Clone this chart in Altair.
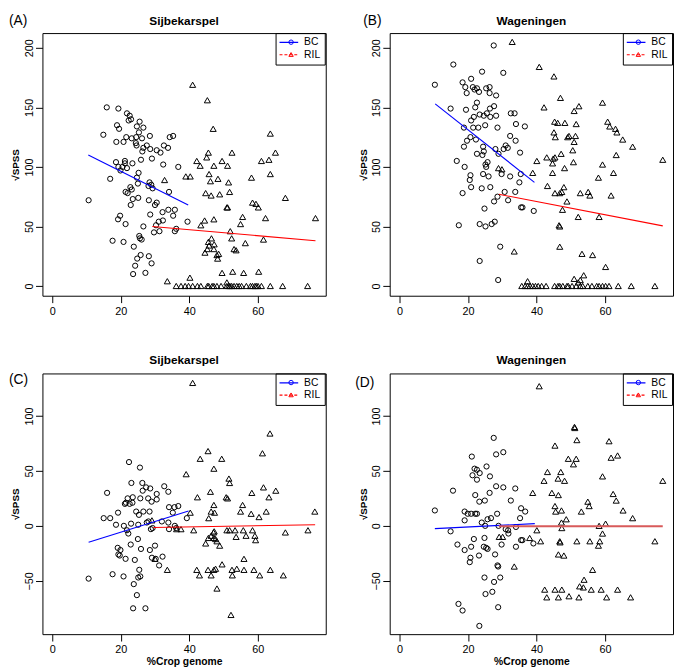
import altair as alt
import pandas as pd

FONT = "Liberation Sans, Arial, Helvetica, sans-serif"

# ---------------- data ----------------
X_DOMAIN = [-2.9, 79.9]
X_TICKS = [0, 20, 40, 60]
Y_DOMAIN_TOP = [-8.2, 212.4]
Y_TICKS_TOP = [0, 50, 100, 150, 200]
Y_DOMAIN_BOT = [-98.5, 138.6]
Y_TICKS_BOT = [-50, 0, 50, 100]

PANEL_TITLES = ["Sijbekarspel", "Wageningen", "Sijbekarspel", "Wageningen"]
PANEL_LETTERS = ["(A)", "(B)", "(C)", "(D)"]
GROUPS = ["BC", "RIL"]

A_BC = [(15.9,150),(19.3,149),(21.8,145),(22.6,143),(23.0,140),(22.3,139),(25.5,138),(24.7,134),(26.6,133),
        (18.9,135),(19.5,132),(25.3,129),(14.9,127),(21.6,125),(23.2,124),(24.5,125),(26.2,124),(28.5,126),
        (18.7,121),(20.8,121),(24.4,120),(24.6,118),(27.6,118),(26.6,116),(28.6,115),(30.5,114),(31.6,112),
        (32.6,118),(33.8,116),(34.3,125),(35.3,126),(26.3,113),(25.9,106),(29.1,107),(23.4,103),(21.2,105),
        (21.2,103),(18.6,104),(19.3,100),(20.5,100),(21.8,99),(19.9,97),(25.2,95),(32.4,102),(36.8,100),
        (16.9,90),(24.7,91),(25.0,86),(22.8,83),(23.2,81),(28.4,87),(28.9,85),(29.3,82),(28.1,84),(10.6,72),
        (21.4,79),(22.0,78),(34.1,79),(23.5,73),(25.1,74),(28.2,72),(30.5,70),(22.9,68),(30.0,68),(32.2,62),
        (33.9,64),(35.8,64),(35.3,59),(28.6,60),(19.8,59),(19.2,56),(21.4,52),(26.6,50),(31.1,54),(32.3,55),
        (30.3,51),(31.3,46),(29.7,45),(39.5,54),(35.8,46),(36.2,48),(17.6,38),(20.8,37),(25.4,42),(25.6,40),
        (26.1,39),(23.8,33),(25.8,26),(28.2,25),(24.8,23),(24.2,17),(29.0,19),(23.6,10),(27.2,11)]
A_RIL = [(41.0,169),(45.3,156),(47.0,132),(63.7,128),(65.2,112),(45.6,112),(42.2,105),(45.1,108),(49.6,105),
         (52.5,112),(43.2,101),(47.2,101),(51.2,101),(45.8,94),(48.4,90),(46.2,88),(51.5,87),(39.0,92),(40.3,92),
         (32.8,89),(44.8,78),(46.4,76),(48.9,77),(51.8,79),(51.0,66),(51.2,66),(58.2,91),(61.1,105),(63.3,106),
         (63.7,94),(68.1,74),(58.5,70),(59.5,69),(60.2,66),(55.6,58),(55.0,52),(62.3,57),(76.9,57),(47.2,56),
         (44.5,55),(43.4,51),(52.0,46),(52.4,40),(56.4,36),(61.7,39),(46.5,40),(45.6,37),(45.8,34),(45.3,31),
         (44.6,28),(47.3,35),(47.2,31),(53.1,31),(53.7,30),(48.1,26),(48.6,27),(48.3,23),(49.6,11),(52.7,12),
         (55.9,11),(60.3,12),(40.2,7),(33.6,4),(51.0,3),
         (36.2,0),(37.6,0),(38.8,0),(39.8,0),(41.0,0),(42.4,0),(43.4,0),(45.3,0),(45.7,0),(46.7,0),(47.2,0),
         (48.1,0),(49.3,0),(51.0,0),(51.5,0),(51.9,0),(52.4,0),(53.1,0),(53.9,0),(54.6,0),(55.3,0),(56.7,0),
         (57.9,0),(58.5,0),(59.2,0),(59.6,0),(60.1,0),(61.1,0),(63.7,0),(67.3,0),(74.6,0)]
A_FIT_BC = [(10.5,110),(39.7,68)]
A_FIT_RIL = [(29.2,50),(76.9,38)]

B_BC = [(27.5,202),(15.7,186),(10.3,169),(24.1,180),(30.3,179),(20.9,174),(18.4,171),(19.2,167),(21.4,167),
        (22.6,166),(23.2,163),(21.9,165),(25.3,166),(26.3,167),(19.6,162),(26.3,162),(28.2,160),(14.9,149),
        (19.4,148),(22.6,154),(22.1,150),(23.4,144),(21.7,142),(20.9,139),(24.6,143),(25.5,145),(26.4,149),
        (27.6,151),(28.2,143),(26.5,142),(32.5,145),(33.6,145),(34.0,136),(36.6,134),(18.8,133),(21.5,133),
        (23.0,133),(25.0,135),(28.6,133),(20.7,125),(19.7,122),(22.3,123),(18.8,117),(32.3,126),(33.9,122),
        (22.6,111),(24.2,110),(24.6,113),(24.4,117),(28.0,115),(28.9,111),(30.4,115),(31.0,118),(31.6,116),
        (35.2,112),(16.7,105),(19.0,100),(25.1,102),(25.7,104),(25.3,100),(24.4,94),(26.0,92),(29.8,94),
        (32.3,92),(35.4,94),(20.7,93),(20.5,89),(20.9,83),(24.0,82),(26.5,83),(18.4,78),(35.0,87),(33.8,79),
        (30.7,79),(28.6,75),(27.6,71),(31.7,72),(35.5,66),(35.9,66),(39.2,63),(24.8,65),(17.3,51),(23.4,52),
        (25.1,50),(26.9,52),(27.8,54),(29.4,33),(23.4,21),(28.8,5)]
B_RIL = [(32.9,205),(40.8,184),(45.1,176),(47.0,158),(42.2,150),(51.0,147),(52.4,151),(59.3,154),(45.3,138),
         (46.2,137),(48.3,137),(51.6,136),(60.8,138),(61.4,134),(63.1,132),(63.5,129),(65.2,123),(68.1,117),
         (76.9,106),(45.1,129),(45.5,125),(49.1,125),(49.5,126),(51.4,126),(51.0,121),(63.3,110),(59.3,102),
         (50.6,114),(50.8,104),(47.2,111),(45.4,108),(44.7,103),(44.9,107),(43.0,108),(40.1,105),(48.2,99),
         (44.7,95),(38.9,95),(62.5,95),(58.1,91),(43.2,84),(48.0,83),(47.4,79),(46.8,78),(45.4,78),(52.8,78),
         (55.1,79),(55.6,76),(61.8,76),(48.9,71),(47.6,64),(52.2,58),(58.3,58),(46.6,51),(46.8,50),(28.9,99),
         (29.9,98),(33.5,29),(46.8,33),(53.3,27),(56.4,26),(60.2,16),(53.8,9),(51.0,6),(52.8,5),(52.2,3),(37.4,4),
         (35.7,0),(36.7,0),(37.4,0),(38.1,0),(38.9,0),(39.7,0),(40.5,0),(41.5,0),(42.8,0),(45.3,0),(46.3,0),
         (46.8,0),(47.7,0),(48.9,0),(49.3,0),(50.4,0),(51.6,0),(52.8,0),(53.5,0),(55.0,0),(56.2,0),(57.6,0),
         (58.3,0),(59.3,0),(60.2,0),(61.2,0),(63.9,0),(67.7,0),(74.6,0)]
B_FIT_BC = [(10.4,153),(39.4,87)]
B_FIT_RIL = [(29.0,77),(76.9,50.5)]

C_BC = [(22.4,58),(25.6,53),(23.1,39),(26.3,39),(27.4,35),(28.6,34),(16.0,30),(26.4,32),(30.5,29),(32.7,36),
        (33.9,31),(22.0,25),(23.5,26),(25.7,25),(28.0,25),(29.0,22),(30.5,24),(21.2,20),(21.5,21),(22.6,20),
        (23.4,21),(34.1,17),(35.7,17),(36.8,18),(24.5,13),(25.3,10),(26.6,13),(28.4,13),(35.2,12),(19.2,12),
        (15.0,7),(16.9,7),(18.6,1),(20.9,0),(23.0,2),(25.1,1),(27.6,3),(28.1,4),(21.8,-4),(22.2,-7),(28.8,-3),
        (29.3,-2),(32.0,4),(33.9,3),(34.1,-3),(35.8,0),(39.3,7),(36.2,-2),(25.0,-12),(22.9,-17),(25.9,-21),
        (28.5,-22),(30.0,-18),(19.1,-20),(19.9,-22),(19.3,-26),(19.7,-27),(21.4,-30),(24.1,-31),(29.1,-29),
        (32.2,-28),(30.2,-30),(31.2,-36),(17.6,-44),(20.8,-46),(25.4,-40),(25.7,-46),(25.1,-47),(10.6,-48),
        (23.8,-53),(24.7,-63),(23.6,-75),(27.2,-75)]
C_RIL = [(41.0,130),(63.6,84),(45.5,68),(43.2,61),(49.5,61),(61.4,66),(47.2,52),(39.1,47),(51.6,43),(51.8,39),
         (61.7,35),(65.3,32),(46.2,31),(58.3,30),(63.3,26),(50.8,26),(51.2,25),(42.4,26),(47.2,19),(55.6,19),
         (55.0,13),(58.1,11),(62.5,13),(60.4,8),(76.7,13),(46.4,13),(47.4,12),(40.3,12),(45.7,7),(51.0,-4),
         (51.8,-4),(53.4,-4),(55.8,-4),(58.5,-4),(41.3,-4),(37.6,-3),(36.3,-3),(47.3,-5),(47.1,-6),(46.4,-9),
         (47.2,-11),(47.7,-12),(45.6,-11),(44.8,-16),(48.1,-14),(48.9,-18),(53.7,-10),(56.6,-9),(59.2,-9),
         (59.4,-13),(68.1,-6),(74.7,-4),(56.0,-30),(49.6,-35),(33.6,-40),(42.2,-40),(43.0,-45),(45.5,-40),
         (46.4,-45),(47.2,-40),(47.7,-39),(52.5,-40),(52.6,-45),(53.9,-39),(56.0,-40),(58.9,-40),(60.6,-45),
         (63.7,-40),(67.5,-45),(48.1,-57),(52.2,-81),(29.1,5),(30.0,-30)]
C_FIT_BC = [(10.6,-15),(39.8,13.5)]
C_FIT_RIL = [(29.5,-1.5),(76.8,1)]

D_BC = [(27.5,80),(28.2,65),(30.3,67),(21.1,63),(21.9,52),(22.6,51),(23.4,48),(21.3,46),(22.6,42),(25.4,54),
        (26.4,45),(15.6,32),(22.1,28),(28.2,36),(30.3,35),(33.8,34),(26.3,30),(24.9,23),(23.3,22),(32.5,23),
        (10.3,14),(19.0,13),(19.9,11),(20.9,11),(22.1,11),(22.6,11),(19.0,5),(25.7,6),(26.7,7),(24.0,3),
        (28.5,11),(35.5,16),(36.7,13),(35.2,7),(14.9,-5),(16.9,-17),(25.0,0),(28.9,0),(31.0,-3),(31.7,-4),
        (34.0,-1),(31.8,-7),(21.7,-12),(24.8,-11),(29.8,-17),(34.0,-19),(19.0,-22),(20.9,-19),(23.2,-27),
        (24.6,-19),(25.3,-20),(25.7,-21),(27.9,-26),(20.7,-29),(20.5,-33),(35.5,-13),(35.9,-13),(28.6,-36),
        (28.8,-37),(24.8,-47),(27.6,-51),(29.4,-47),(25.1,-62),(27.1,-60),(17.2,-71),(18.4,-77),(28.8,-74),
        (23.3,-91),(39.1,-16)]
D_RIL = [(40.8,127),(51.1,90),(51.2,89),(51.8,78),(61.2,77),(45.4,73),(61.8,62),(63.7,64),(49.3,61),(51.6,61),
         (50.8,56),(43.2,49),(42.2,41),(47.1,49),(46.3,43),(48.2,41),(59.3,45),(38.9,30),(44.5,30),(46.4,28),
         (62.4,29),(63.3,23),(45.4,18),(45.6,13),(47.3,14),(48.7,6),(47.3,3),(47.4,-2),(55.0,22),(55.4,18),
         (53.1,13),(65.3,14),(68.1,7),(59.3,-7),(58.3,0),(60.2,2),(40.1,-4),(38.0,-11),(41.2,-14),(29.1,-10),
         (30.1,-10),(46.8,-14),(46.9,-15),(46.4,-26),(48.0,-27),(51.8,-14),(55.6,-14),(58.5,-14),(58.1,-18),
         (74.6,-14),(33.5,-37),(56.4,-40),(53.9,-49),(52.6,-55),(53.7,-56),(42.4,-58),(45.4,-58),(47.4,-58),
         (56.0,-58),(58.9,-58),(63.7,-58),(43.0,-65),(46.4,-65),(49.5,-64),(52.4,-65),(60.5,-65),(67.5,-65),
         (76.9,41)]
D_FIT_BC = [(10.3,-2.5),(39.5,2)]
D_FIT_RIL = [(29.0,-0.3),(76.9,-0.3)]

# ---------------- layout / style ----------------
W = 288
H_TOP = 267
H_BOT = 265
BLUE = "#0000ff"
RED = "#ff0000"
LEG_W = 51


def pts(pairs):
    return pd.DataFrame({"x": [p[0] for p in pairs], "y": [p[1] for p in pairs]})


def panel(bc, ril, fit_bc, fit_ril, title, letter, letter_dx, letter_dy, title_y,
          ydom, yticks, xtitle, height, ril_color=RED, ril_width=1.1):
    xs = alt.Scale(domain=X_DOMAIN, nice=False, zero=False)
    ys = alt.Scale(domain=ydom, nice=False, zero=False)
    xax = alt.Axis(values=X_TICKS, tickSize=7, labelPadding=3, domain=False, grid=False,
                   labelFlush=False, labelOverlap=False, labelFontSize=11,
                   title=xtitle, titleFontSize=10.5, titleFontWeight="bold", titlePadding=2)
    yax = alt.Axis(values=yticks, tickSize=7, labelPadding=1, domain=False, grid=False,
                   labelFlush=False, labelOverlap=False, labelFontSize=11,
                   labelAngle=270, labelAlign="center", labelBaseline="bottom",
                   title="√SPSS", titleFontSize=10, titleFontWeight="bold", titlePadding=3)
    xe = alt.X("x:Q", scale=xs, axis=xax)
    ye = alt.Y("y:Q", scale=ys, axis=yax)

    circles = alt.Chart(pts(bc)).mark_point(shape="circle", filled=False, color="black",
                                            size=28, strokeWidth=1, opacity=1).encode(x=xe, y=ye)
    tris = alt.Chart(pts(ril)).mark_point(shape="triangle-up", filled=False, color="black",
                                          size=38, strokeWidth=1, opacity=1).encode(x=xe, y=ye)
    line_bc = alt.Chart(pts(fit_bc)).mark_line(color=BLUE, strokeWidth=1.1).encode(x=xe, y=ye)
    line_ril = alt.Chart(pts(fit_ril)).mark_line(color=ril_color, strokeWidth=ril_width).encode(x=xe, y=ye)

    fitdf = pd.DataFrame({"x": [fit_bc[0][0], fit_ril[0][0]],
                          "y": [fit_bc[0][1], fit_ril[0][1]],
                          "grp": GROUPS, "grp2": ["bc", "ril"]})
    common = dict(title=None, orient="none", legendX=W - LEG_W, legendY=0,
                  labelFont=FONT, labelFontSize=10.5, padding=4,
                  rowPadding=1.5, symbolOpacity=1)
    line_leg = alt.Legend(symbolType="M-2,0H2", symbolSize=90, symbolStrokeWidth=1.2,
                          symbolOffset=4, labelOffset=10,
                          strokeColor="black", labelColor="black", **common)
    sym_leg = alt.Legend(symbolSize=20, symbolStrokeWidth=1, symbolOffset=6.5,
                         labelOffset=10, labelExpr="' '", **common)
    leg_lines = alt.Chart(fitdf).transform_filter("datum.x < -1000").mark_line().encode(
        x=xe, y=ye,
        color=alt.Color("grp:N", scale=alt.Scale(domain=GROUPS, range=[BLUE, RED]), legend=line_leg),
        strokeDash=alt.StrokeDash("grp:N", scale=alt.Scale(domain=GROUPS, range=[[1, 0], [3, 2]]),
                                  legend=line_leg),
    )
    leg_syms = alt.Chart(fitdf).transform_filter("datum.x < -1000").mark_point(filled=False).encode(
        x=xe, y=ye,
        shape=alt.Shape("grp2:N", scale=alt.Scale(domain=["bc", "ril"], range=["circle", "triangle-up"]),
                        legend=sym_leg),
        stroke=alt.Stroke("grp2:N", scale=alt.Scale(domain=["bc", "ril"], range=[BLUE, RED]),
                          legend=sym_leg),
    )
    lab = alt.Chart(pd.DataFrame({"t": [letter]})).mark_text(
        align="left", baseline="middle", fontSize=14, font=FONT, color="black"
    ).encode(text="t:N", x=alt.value(letter_dx), y=alt.value(letter_dy))
    ttl = alt.Chart(pd.DataFrame({"t": [title]})).mark_text(
        align="center", baseline="alphabetic", fontSize=12, fontWeight="bold", font=FONT, color="black"
    ).encode(text="t:N", x=alt.value(W / 2), y=alt.value(title_y))

    return alt.layer(circles, tris, line_bc, line_ril, leg_lines, leg_syms, lab, ttl).properties(
        width=W, height=height)


pA = panel(A_BC, A_RIL, A_FIT_BC, A_FIT_RIL, PANEL_TITLES[0], PANEL_LETTERS[0], -34, -12, -8,
           Y_DOMAIN_TOP, Y_TICKS_TOP, None, H_TOP)
pB = panel(B_BC, B_RIL, B_FIT_BC, B_FIT_RIL, PANEL_TITLES[1], PANEL_LETTERS[1], -27, -12, -8,
           Y_DOMAIN_TOP, Y_TICKS_TOP, None, H_TOP)
pC = panel(C_BC, C_RIL, C_FIT_BC, C_FIT_RIL, PANEL_TITLES[2], PANEL_LETTERS[2], -34, 7, -10,
           Y_DOMAIN_BOT, Y_TICKS_BOT, "%Crop genome", H_BOT)
pD = panel(D_BC, D_RIL, D_FIT_BC, D_FIT_RIL, PANEL_TITLES[3], PANEL_LETTERS[3], -35, 10, -10,
           Y_DOMAIN_BOT, Y_TICKS_BOT, "%Crop genome", H_BOT, ril_color="#d85a5a", ril_width=2)

IND = dict(color="independent", strokeDash="independent", shape="independent", stroke="independent")

chart = (
    alt.concat(pA, pB, pC, pD, columns=2, spacing=alt.RowColnumber(row=79, column=65), bounds="flush")
    .resolve_scale(**IND).resolve_legend(**IND)
    .properties(padding={"left": 0, "top": 0, "right": 0, "bottom": 0})
    .configure_view(stroke="black", strokeWidth=1)
    .configure_axis(labelFont=FONT, titleFont=FONT, labelColor="black", titleColor="black",
                    tickColor="black", tickWidth=1)
    .configure_legend(labelFont=FONT)
)

chart.save("out.html", embed_options={"renderer": "svg", "actions": False})
